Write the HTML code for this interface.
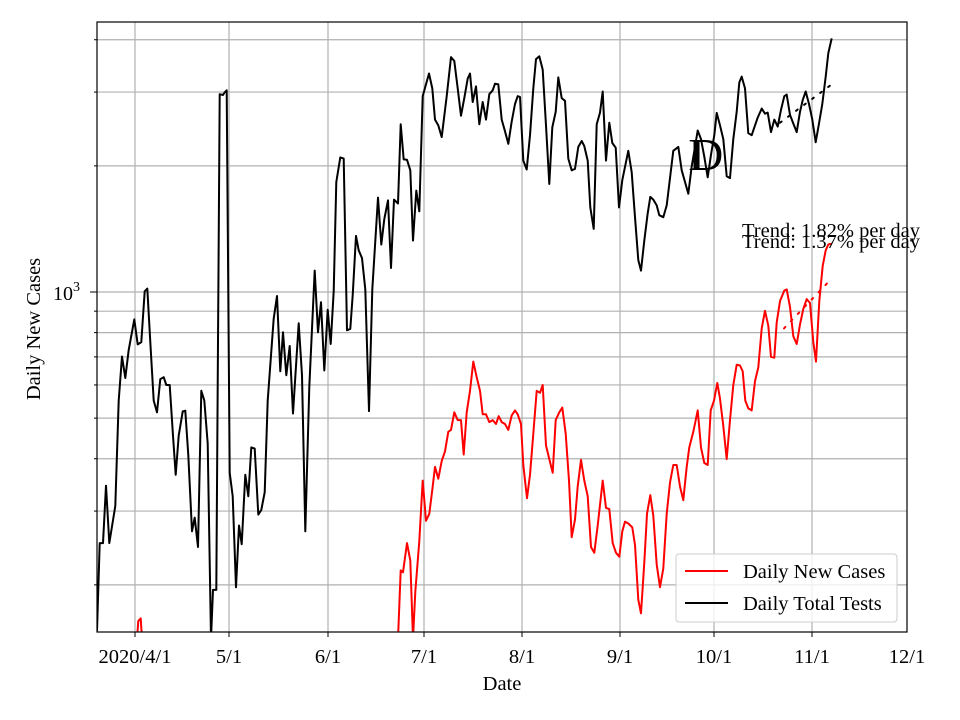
<!DOCTYPE html>
<html><head><meta charset="utf-8"><style>
body{margin:0;background:#fff}
svg{display:block;font-family:"Liberation Serif",serif}
</style></head><body>
<svg id="s" width="960" height="720" xmlns="http://www.w3.org/2000/svg">
<rect width="960" height="720" fill="#fff"/>
<g id="grid" stroke="#b0b0b0" stroke-width="1.2"></g>
<clipPath id="c"><rect x="97" y="22" width="810" height="610"/></clipPath>
<g clip-path="url(#c)" id="series"></g>
<rect x="97" y="22" width="810" height="610" fill="none" stroke="#000" stroke-width="1.2"/>
<g id="ticks" stroke="#000" stroke-width="1"></g>
<g font-size="20.5" text-anchor="middle">
<text x="135" y="663">2020/4/1</text><text x="229" y="663">5/1</text><text x="328" y="663">6/1</text>
<text x="424" y="663">7/1</text><text x="522" y="663">8/1</text><text x="620" y="663">9/1</text>
<text x="714" y="663">10/1</text><text x="812" y="663">11/1</text><text x="907" y="663">12/1</text>
<text x="502" y="690">Date</text>
<text transform="translate(40,329) rotate(-90)">Daily New Cases</text>
</g>
<text x="53" y="300" font-size="20">10<tspan dy="-9" font-size="14">3</tspan></text>
<text x="742" y="237" font-size="20.5">Trend: 1.82% per day</text>
<text x="742" y="248" font-size="20.5">Trend: 1.37% per day</text>
<text x="688" y="170" font-size="46">I</text><text x="690" y="170" font-size="46">D</text>
<rect x="676" y="554" width="221" height="68" rx="3" fill="#fff" fill-opacity="0.8" stroke="#ccc"/>
<line x1="685" y1="571" x2="728" y2="571" stroke="red" stroke-width="2"/>
<line x1="685" y1="603" x2="728" y2="603" stroke="#000" stroke-width="2"/>
<text x="743" y="578" font-size="20.5">Daily New Cases</text>
<text x="743" y="610" font-size="20.5">Daily Total Tests</text>
</svg>
<script>
var NS="http://www.w3.org/2000/svg";
function el(p,t,a){var e=document.createElementNS(NS,t);for(var k in a)e.setAttribute(k,a[k]);p.appendChild(e);return e;}
var g=document.getElementById('grid'),tk=document.getElementById('ticks');
[135,229,328,424,522,620,714,812].forEach(function(x){el(g,'line',{x1:x,y1:22,x2:x,y2:632});el(tk,'line',{x1:x,y1:632,x2:x,y2:637});});
function Y(v){return 292-Math.log10(v/1000)*419;}
[200,300,400,500,600,700,800,900,1000,2000,3000,4000].forEach(function(v){var y=Y(v);el(g,'line',{x1:97,y1:y,x2:907,y2:y});el(tk,'line',{x1:v==1000?90:94,y1:y,x2:97,y2:y});});
var s=document.getElementById('series');
var SY=1568/612;
function T(ox,oy,a){return a.map(function(p){return [ox+p[0]/3,oy+p[1]/SY];});}
function L(pts,col,extra){var o={points:pts.map(function(p){return p[0].toFixed(1)+','+p[1].toFixed(1)}).join(' '),fill:'none',stroke:col,'stroke-width':2,'stroke-linejoin':'round'};for(var k in extra)o[k]=extra[k];el(s,'polyline',o);}
var b1=[[0,1560],[8,1335],[18,1335],[27,1188],[37,1335],[55,1240],[65,970],[75,857],[85,912],[95,840],[112,762],[122,826],[133,820],[143,690],[151,683],[160,820],[170,970],[180,1000],[190,915],[200,910],[208,930],[218,930],[228,1060],[236,1160],[245,1060],[257,998],[265,996],[274,1110],[285,1305],[293,1270],[303,1345],[313,945],[322,970],[332,1080],[342,1580],[348,1455],[358,1455],[368,185],[378,187],[383,180],[389,175],[398,1155],[407,1215],[417,1448],[426,1290],[434,1338],[445,1160],[454,1215],[463,1090],[473,1093],[484,1262],[493,1250],[503,1205],[512,970],[530,760],[540,702],[550,895],[558,795],[568,905],[578,830],[588,1003],[605,772],[615,905],[625,1305],[637,935],[653,637],[663,795],[672,718],[682,893],[692,737],[701,825],[710,690],[718,410],[730,347],[740,350],[750,790],[760,786],[767,700],[777,548],[785,585],[795,605],[805,685],[816,997],[826,685],[843,450],[853,570],[862,505],[873,457],[882,630],[891,455],[903,465],[911,262],[920,352],[930,353],[940,380],[948,560],[958,432],[967,485],[977,190]];
var b2=[[8,190],[27,132],[37,170],[45,250],[55,265],[65,295],[80,190],[93,90],[103,100],[113,170],[123,240],[133,195],[143,145],[150,132],[158,205],[168,165],[178,262],[188,205],[198,250],[208,185],[218,175],[225,158],[235,160],[245,250],[255,280],[265,312],[275,255],[285,210],[293,190],[300,192],[310,355],[320,378],[330,290],[340,170],[348,95],[358,88],[368,122],[378,265],[388,415],[397,270],[407,230],[415,142],[425,195],[435,202],[445,350],[455,380],[465,376],[475,320],[485,305],[493,318],[503,355],[511,475],[521,530],[530,262],[540,232],[548,178],[558,355],[568,258],[577,310],[587,322],[597,475],[607,405],[625,330],[635,385],[645,500],[655,610],[663,637],[673,560],[683,490],[691,448],[700,455],[710,470],[718,495]];
var b3=[[0,490],[10,500],[20,470],[30,400],[40,330],[55,320],[65,380],[75,410],[85,440],[95,370],[105,320],[113,278],[123,300],[133,345],[143,398],[153,340],[163,290],[170,233],[180,265],[190,300],[200,395],[210,400],[220,300],[230,230],[238,155],[245,140],[255,170],[265,285],[275,290],[285,265],[293,245],[305,222],[315,235],[323,232],[333,282],[343,250],[353,268],[363,225],[373,190],[380,186],[390,238],[400,260],[410,282],[420,230],[428,200],[437,178],[447,210],[457,250],[467,308],[477,260],[487,210],[497,140],[505,80],[515,42]];
L(T(97,22,b1).concat(T(420,22,b2).slice(1)).concat(T(660,22,b3).slice(1)),'#000');
L(T(97,22,[[120,1580],[124,1535],[131,1528],[135,1580]]),'red');
var r1=[[903,1580],[911,1405],[918,1410],[930,1335],[940,1380],[948,1580],[955,1460],[967,1330],[977,1175]];
var r2=[[8,1175],[18,1278],[28,1260],[38,1190],[45,1140],[55,1170],[65,1125],[75,1100],[85,1050],[93,1045],[103,1000],[113,1020],[123,1020],[131,1108],[140,1000],[150,945],[160,870],[170,910],[180,945],[188,1005],[198,1005],[208,1025],[218,1020],[228,1030],[236,1010],[245,1025],[255,1030],[265,1045],[275,1008],[285,995],[293,1005],[303,1030],[310,1135],[321,1220],[330,1160],[340,1055],[350,945],[360,950],[368,930],[378,1085],[388,1120],[398,1155],[407,1020],[418,1000],[427,988],[437,1055],[447,1175],[455,1320],[465,1275],[473,1190],[483,1122],[493,1175],[503,1215],[513,1345],[523,1360],[533,1290],[548,1175],[558,1245],[568,1248],[578,1335],[588,1360],[598,1370],[607,1305],[615,1280],[625,1285],[637,1295],[645,1340],[655,1480],[663,1515],[673,1385],[681,1260],[691,1212],[700,1265],[710,1390],[720,1448]];
var r3=[[0,1448],[10,1400],[20,1260],[30,1180],[40,1135],[50,1135],[60,1190],[70,1225],[80,1140],[88,1090],[100,1050],[113,995],[123,1090],[133,1130],[143,1135],[152,995],[162,970],[172,925],[180,965],[190,1035],[200,1120],[210,1020],[220,930],[230,878],[240,880],[248,895],[256,970],[265,990],[275,995],[285,920],[295,885],[305,785],[315,740],[325,778],[333,858],[343,860],[350,770],[360,715],[373,688],[380,685],[390,730],[400,805],[410,825],[420,775],[430,735],[440,710],[450,720],[460,820],[468,870],[478,715],[488,625],[497,585],[505,570],[515,568]];
L(T(97,22,r1).concat(T(420,22,r2).slice(1)).concat(T(660,22,r3).slice(1)),'red');
L(T(660,22,[[360,258],[515,160]]),'#000',{'stroke-dasharray':'2,8','stroke-linecap':'round'});
L(T(660,22,[[372,785],[512,660]]),'red',{'stroke-dasharray':'2,8','stroke-linecap':'round'});
</script>
</body></html>
